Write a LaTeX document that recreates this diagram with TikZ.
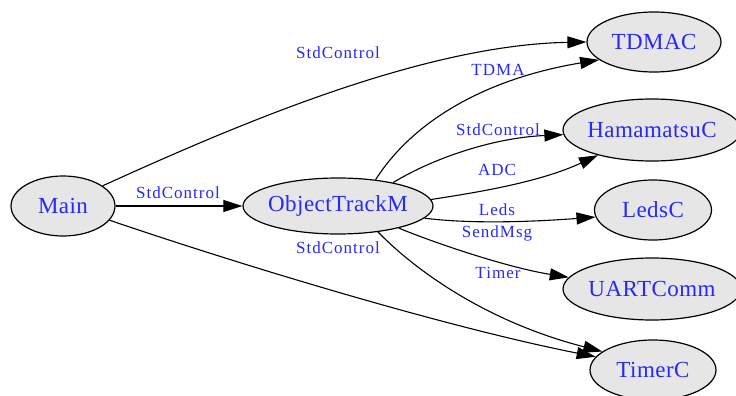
\documentclass[tikz,border=0pt]{standalone}
\usepackage{fontspec}
\setmainfont{Liberation Serif}
\usetikzlibrary{shapes.geometric,arrows.meta}
\definecolor{lbl}{RGB}{40,40,250}
\definecolor{nodefill}{RGB}{230,230,230}
% component name, kept from widening its ellipse
\newcommand\compname[1]{\makebox[0pt]{#1}}
\tikzset{
  comp/.style={ellipse, draw, line width=1.2pt, fill=nodefill, text=lbl,
    inner sep=0pt, font=\fontsize{23}{27}\selectfont\addfontfeature{LetterSpace=2}},
  wire/.style={line width=1.1pt, -{Triangle[length=19pt,width=12pt]}},
  elabel/.style={text=lbl, inner sep=0pt,
    font=\fontsize{17}{20}\selectfont\addfontfeature{LetterSpace=6}},
}
\begin{document}
\begin{tikzpicture}[x=1pt,y=-1pt]
\useasboundingbox (0,0) rectangle (736,396);

% components
\node[comp, minimum width=104pt, minimum height=60pt] (main)  at (63,206)  {\compname{Main}};
\node[comp, minimum width=190pt, minimum height=56pt] (otm)   at (338,206) {\compname{ObjectTrackM}};
\node[comp, minimum width=134pt, minimum height=60pt] (tdmac) at (654,42)  {\compname{TDMAC}};
\node[comp, minimum width=178pt, minimum height=62pt] (ham)   at (652,130) {\compname{HamamatsuC}};
\node[comp, minimum width=117pt, minimum height=60pt] (leds)  at (653,210) {\compname{LedsC}};
\node[comp, minimum width=178pt, minimum height=62pt] (uart)  at (652,289) {\compname{UARTComm}};
\node[comp, minimum width=126pt, minimum height=60pt] (timer) at (653,370) {\compname{TimerC}};

% wiring from Main
\draw[wire] (main.27) .. controls (230,128) and (420,45) .. (tdmac.180);
\draw[wire] (main.east) -- (otm.west);
\draw[wire] (main.-17) .. controls (250,268) and (450,328) .. (timer.167);

% wiring from ObjectTrackM
\draw[wire] (otm.35) .. controls (415,118) and (490,78) .. (tdmac.198);
\draw[wire] (otm.23) .. controls (430,160) and (490,138) .. (ham.183);
\draw[wire] (otm.4) .. controls (480,192) and (540,182) .. (ham.205);
\draw[wire] (otm.-8) .. controls (470,224) and (530,222) .. (leds.187);
\draw[wire] (otm.-20) .. controls (440,245) and (510,268) .. (uart.172);
\draw[wire] (otm.-33) .. controls (410,265) and (480,320) .. (timer.160);

% interface labels
\node[elabel] (l1) at (338,53)  {StdControl};
\node[elabel] (l2) at (178,193) {StdControl};
\node[elabel] (l3) at (338,248) {StdControl};
\node[elabel] (l4) at (498,70)  {TDMA};
\node[elabel] (l5) at (498,130) {StdControl};
\node[elabel] (l6) at (497,170) {ADC};
\node[elabel] (l7) at (497,210) {Leds};
\node[elabel] (l8) at (497,233) {SendMsg};
\node[elabel] (l9) at (498,273) {Timer};
\end{tikzpicture}
\end{document}
